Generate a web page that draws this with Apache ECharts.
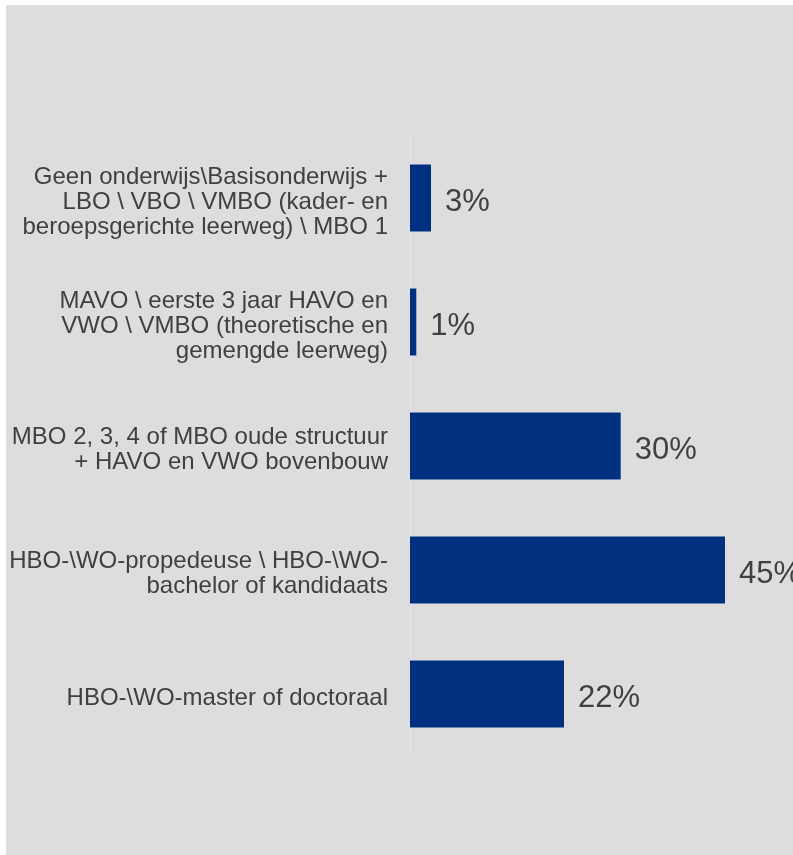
<!DOCTYPE html>
<html>
<head>
<meta charset="utf-8">
<script src="https://cdn.jsdelivr.net/npm/echarts@6/dist/echarts.min.js"></script>
<style>
  html, body { margin: 0; padding: 0; background: #ffffff; }
  #chart { position: absolute; left: 6px; top: 5px; width: 787px; height: 850px; }
</style>
</head>
<body>
<div id="chart"></div>
<script>
const categories = [
  "Geen onderwijs\\Basisonderwijs +\nLBO \\ VBO \\ VMBO (kader- en\nberoepsgerichte leerweg) \\ MBO 1",
  "MAVO \\ eerste 3 jaar HAVO en\nVWO \\ VMBO (theoretische en\ngemengde leerweg)",
  "MBO 2, 3, 4 of MBO oude structuur\n+ HAVO en VWO bovenbouw",
  "HBO-\\WO-propedeuse \\ HBO-\\WO-\nbachelor of kandidaats",
  "HBO-\\WO-master of doctoraal"
];
const values = [3.0, 0.9, 30.1, 45.0, 22.0];

var myChart = echarts.init(document.getElementById("chart"));
myChart.setOption({
  backgroundColor: "#dddddd",
  animation: false,
  grid: {
    left: 404,
    top: 131,
    width: 350,
    height: 620
  },
  xAxis: {
    type: "value",
    min: 0,
    max: 50,
    show: false
  },
  yAxis: {
    type: "category",
    inverse: true,
    data: categories,
    axisLine: { show: true, lineStyle: { color: "#e4e4e4", width: 1 } },
    axisTick: { show: false },
    axisLabel: {
      margin: 22,
      fontFamily: "Liberation Sans",
      fontSize: 24,
      lineHeight: 25,
      color: "#404040",
      align: "right",
      // small empty first line nudges the block down a few px
      formatter: function (v) {
        return "{s| }\n" + v.split("\n").map(function (l) { return "{t|" + l + "}"; }).join("\n");
      },
      rich: {
        s: { fontSize: 1, lineHeight: 8 },
        t: { fontFamily: "Liberation Sans", fontSize: 24, lineHeight: 25, color: "#404040" }
      }
    }
  },
  series: [
    {
      type: "bar",
      data: values,
      barWidth: 67,
      itemStyle: { color: "#00307f" },
      label: {
        show: true,
        position: "right",
        distance: 14,
        offset: [0, 4],
        fontFamily: "Liberation Sans",
        fontSize: 31,
        color: "#404040",
        formatter: function (p) {
          return Math.round(p.value) + "%";
        }
      }
    }
  ]
});
</script>
</body>
</html>
